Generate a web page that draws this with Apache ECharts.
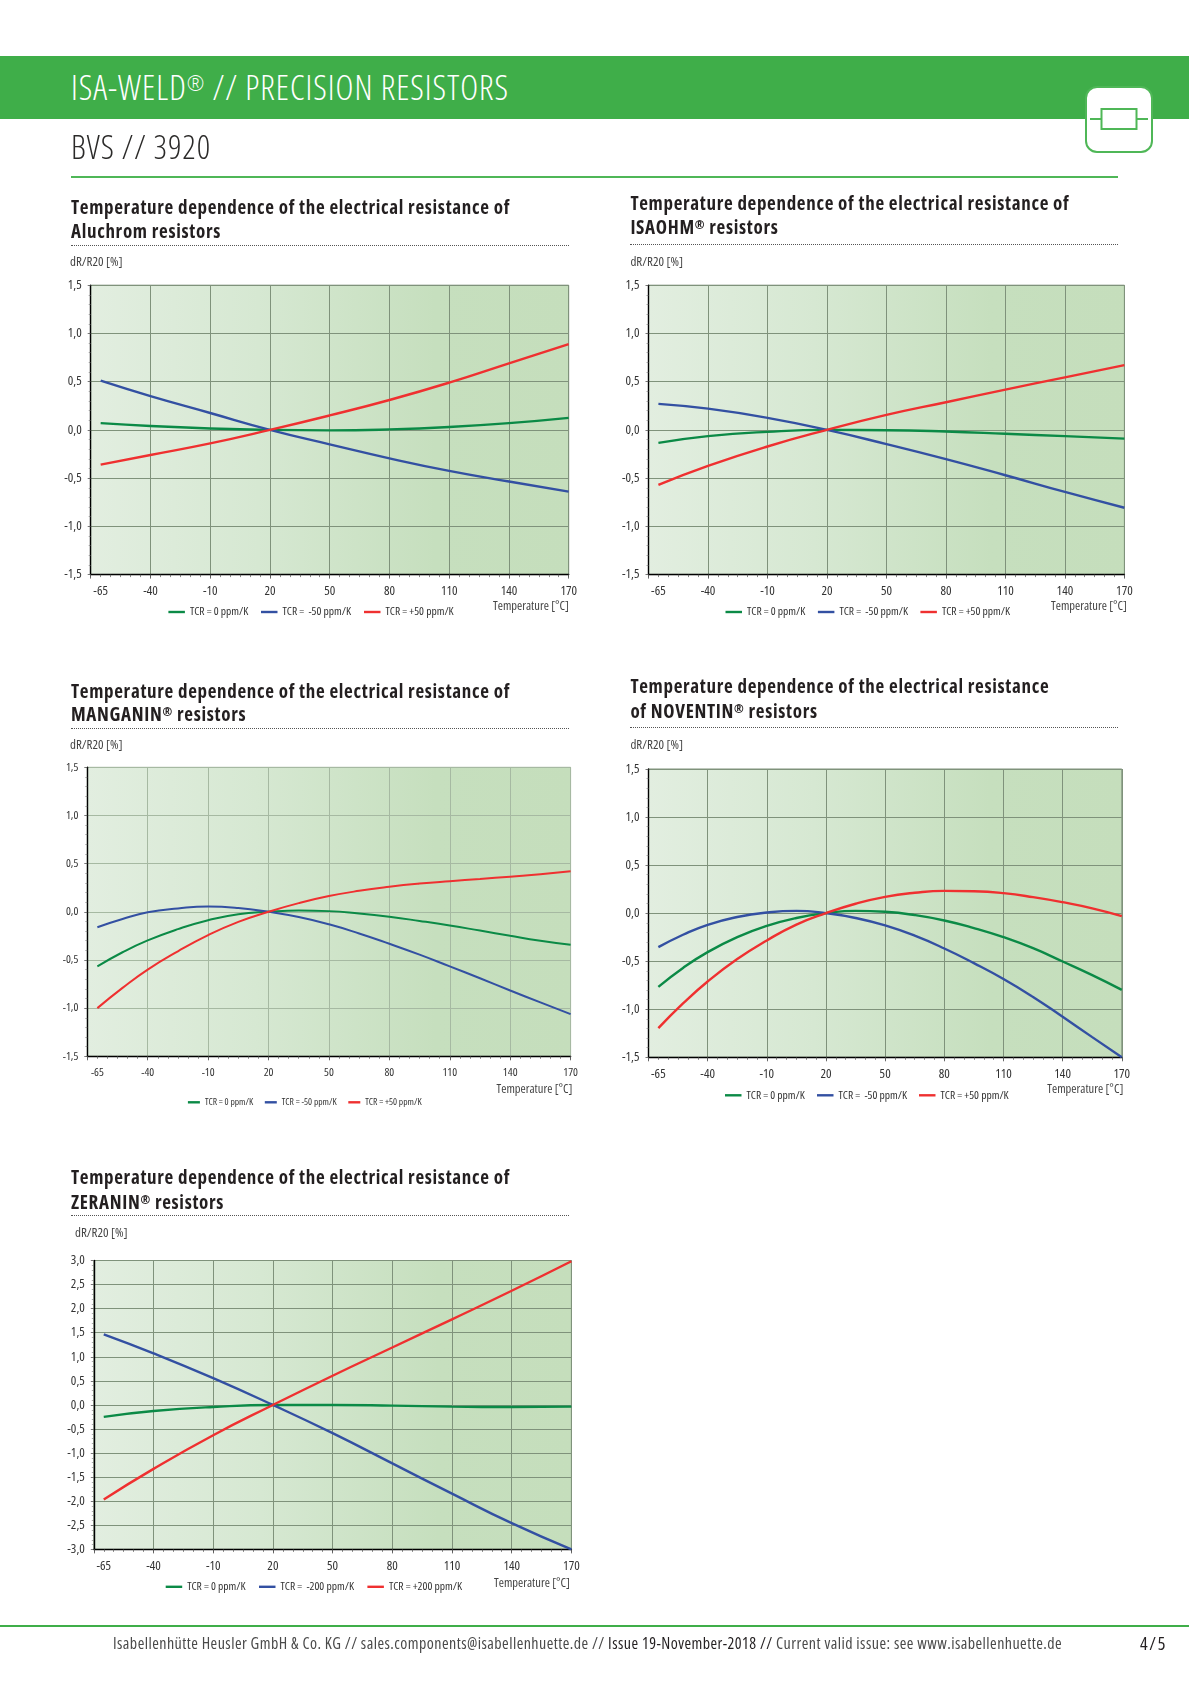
<!DOCTYPE html>
<html>
<head>
<meta charset="utf-8">
<script src="https://cdn.jsdelivr.net/npm/echarts@6/dist/echarts.min.js"></script>
<style>
html,body{margin:0;padding:0;background:#fff;width:1189px;height:1683px;overflow:hidden;font-family:'Open Sans',sans-serif;font-stretch:condensed;color:#231f20}
#c{position:absolute;left:0;top:0;width:1189px;height:1683px}
.t{position:absolute;white-space:pre;line-height:30px;height:30px;font-stretch:condensed}
.r{position:absolute}
sup{font-size:.62em;line-height:0;vertical-align:.45em}
</style>
</head>
<body>
<div id="c"></div>
<div class="r" style="left:0;top:56px;width:1189px;height:63px;background:#3fae49"></div>
<div class="t" id="head" style="left:71px;top:72px;font-size:34px;font-weight:300;color:#fff" data-w="438">ISA-WELD<sup>®</sup> // PRECISION RESISTORS</div>
<div class="t" id="sub" style="left:71px;top:132px;font-size:33px;font-weight:300;color:#2b2a29" data-w="140">BVS // 3920</div>
<div class="r" style="left:71px;top:175.5px;width:1047px;height:2px;background:#4fb757"></div>
<svg class="r" style="left:1082px;top:82px" width="76" height="76" viewBox="0 0 76 76">
  <rect x="4" y="5" width="66" height="65" rx="11" fill="#fff" stroke="#4fb757" stroke-width="2"/>
  <rect x="19.5" y="27" width="35" height="20" fill="none" stroke="#4fb757" stroke-width="2"/>
  <path d="M8 37H19.5M54.5 37H66" stroke="#4fb757" stroke-width="2" fill="none"/>
</svg>
<div id="titles"></div>
<div class="r" style="left:0;top:1625px;width:1189px;height:2px;background:#3fae49"></div>
<div class="t" id="foot" style="left:113px;top:1628px;font-size:16px;color:#4a4a4a" data-w="949">Isabellenhütte Heusler GmbH &amp; Co. KG // sales.components@isabellenhuette.de // <span style="color:#231f20">Issue 19-November-2018 //</span> Current valid issue: see www.isabellenhuette.de</div>
<div class="t" id="page" style="left:1140px;top:1628px;font-size:18px;font-weight:500;color:#231f20" data-w="27">4/5</div>

<script>
// ---- axis ticks and labels
var majorTicks = [-70,-40,-10,20,50,80,110,140,170];
var smallTicks = [-70,-65,-60,-55,-50,-45,-40,-35,-30,-25,-20,-15,-10,-5,0,5,10,15,20,25,30,35,40,45,50,55,60,65,70,75,80,85,90,95,100,105,110,115,120,125,130,135,140,145,150,155,160,165,170];
var xTickLabels = [-65,-40,-10,20,50,80,110,140,170];

// ---- Aluchrom
var aluTemps = [-65,-40,-10,20,50,80,110,140,170];
var aluGreen = [0.07,0.04,0.015,0,-0.005,0.005,0.03,0.07,0.125];
var aluBlue  = [0.51,0.35,0.175,0,-0.15,-0.295,-0.425,-0.535,-0.64];
var aluRed   = [-0.36,-0.26,-0.14,0,0.15,0.31,0.49,0.69,0.89];

// ---- ISAOHM
var isoTemps = [-65,-40,-10,20,50,80,110,140,170];
var isoGreen = [-0.135,-0.065,-0.02,0,-0.003,-0.017,-0.04,-0.065,-0.09];
var isoBlue  = [0.27,0.22,0.125,0,-0.147,-0.303,-0.47,-0.643,-0.807];
var isoRed   = [-0.57,-0.373,-0.172,0,0.155,0.287,0.418,0.545,0.672];

// ---- MANGANIN
var curveTemps = [-65,-52.5,-40,-25,-10,5,20,35,50,65,80,95,110,125,140,155,170];
var manGreen = [-0.567,-0.42,-0.297,-0.18,-0.087,-0.025,0,0.013,0.007,-0.018,-0.052,-0.095,-0.142,-0.195,-0.249,-0.30,-0.343];
var manBlue  = [-0.16,-0.075,-0.005,0.035,0.055,0.04,0,-0.055,-0.13,-0.225,-0.332,-0.445,-0.567,-0.69,-0.817,-0.94,-1.062];
var manRed   = [-1.0,-0.79,-0.6,-0.41,-0.242,-0.105,0,0.09,0.163,0.218,0.26,0.293,0.318,0.34,0.365,0.39,0.422];

// ---- NOVENTIN
var novGreen = [-0.767,-0.57,-0.406,-0.25,-0.132,-0.05,0,0.024,0.014,-0.02,-0.076,-0.155,-0.25,-0.365,-0.503,-0.645,-0.798];
var novBlue  = [-0.354,-0.225,-0.121,-0.04,0.007,0.024,0,-0.05,-0.128,-0.235,-0.368,-0.52,-0.685,-0.872,-1.079,-1.29,-1.5];
var novRed   = [-1.197,-0.94,-0.711,-0.478,-0.284,-0.119,0,0.098,0.17,0.212,0.232,0.228,0.208,0.167,0.114,0.05,-0.031];

// ---- ZERANIN
var zerTemps = [-65,-40,-10,20,50,80,110,140,170];
var zerGreen = [-0.247,-0.127,-0.042,0,0,-0.014,-0.035,-0.042,-0.035];
var zerBlue  = [1.468,1.073,0.557,0,-0.586,-1.214,-1.842,-2.456,-3.0];
var zerRed   = [-1.962,-1.327,-0.628,0,0.607,1.193,1.778,2.371,2.985];

function zip(x,y){return x.map(function(v,i){return [v,y[i]];});}

var GREEN='#0b8a46', BLUE='#3350a2', RED='#ef3030';
var FONT="'Open Sans'", STRETCH='condensed';

var charts = [
 {title:['Temperature dependence of the electrical resistance of','Aluchrom resistors'],tx:71,ty:[207,231],tw:439,dot:[71,569,245],
  box:[90.7,285.2,568.7,574.6],yr:[-1.5,1.5],dRx:70,dRy:262,tempRight:569,tempY:606,legY:614,legX:[168.4,261,364],
  names:['TCR = 0 ppm/K','TCR =  -50 ppm/K','TCR = +50 ppm/K'],s:[[aluTemps,aluGreen],[aluTemps,aluBlue],[aluTemps,aluRed]],grid:'#7f927b',fs:13,lf:11.5,lw:2.4},
 {title:['Temperature dependence of the electrical resistance of','ISAOHM<sup>®</sup> resistors'],tx:630.4,ty:[203.3,227.4],tw:439,dot:[630.4,1118,244.4],
  box:[648.5,285.2,1124.4,574.6],yr:[-1.5,1.5],dRx:630.4,dRy:262,tempRight:1127,tempY:606,legY:614,legX:[725.5,817.9,920.4],
  names:['TCR = 0 ppm/K','TCR =  -50 ppm/K','TCR = +50 ppm/K'],s:[[isoTemps,isoGreen],[isoTemps,isoBlue],[isoTemps,isoRed]],grid:'#7f927b',fs:13,lf:11.5,lw:2.4},
 {title:['Temperature dependence of the electrical resistance of','MANGANIN<sup>®</sup> resistors'],tx:71,ty:[690.7,714.3],tw:439,dot:[71,569,728.3],
  box:[87.3,767.3,570.6,1056.3],yr:[-1.5,1.5],dRx:70,dRy:745,tempRight:572.5,tempY:1089,legY:1105.3,legX:[187.9,264.8,348.3],
  names:['TCR = 0 ppm/K','TCR = -50 ppm/K','TCR = +50 ppm/K'],s:[[curveTemps,manGreen],[curveTemps,manBlue],[curveTemps,manRed]],grid:'#a6b9a2',fs:11.5,lf:9.5,lw:2},
 {title:['Temperature dependence of the electrical resistance','of NOVENTIN<sup>®</sup> resistors'],tx:630.4,ty:[686.3,710.7],tw:419,dot:[630.4,1118,727],
  box:[648.5,769,1121.8,1057.3],yr:[-1.5,1.5],dRx:630.4,dRy:745,tempRight:1123.3,tempY:1089,legY:1097.3,legX:[725,817,919],
  names:['TCR = 0 ppm/K','TCR =  -50 ppm/K','TCR = +50 ppm/K'],s:[[curveTemps,novGreen],[curveTemps,novBlue],[curveTemps,novRed]],grid:'#7f927b',fs:13,lf:11.5,lw:2.4},
 {title:['Temperature dependence of the electrical resistance of','ZERANIN<sup>®</sup> resistors'],tx:71,ty:[1177,1201.7],tw:439,dot:[71,569,1215],
  box:[93.8,1260.5,571.4,1549.4],yr:[-3,3],dRx:75,dRy:1233,tempRight:570,tempY:1583,legY:1588.8,legX:[165.7,259,367.4],
  names:['TCR = 0 ppm/K','TCR =  -200 ppm/K','TCR = +200 ppm/K'],s:[[zerTemps,zerGreen],[zerTemps,zerBlue],[zerTemps,zerRed]],grid:'#7f927b',fs:13,lf:11.5,lw:2.4}
];

var option={animation:false,grid:[],xAxis:[],yAxis:[],legend:[],series:[],graphic:{elements:[]}};
var titlesEl=document.getElementById('titles');
var COLORS=[GREEN,BLUE,RED];

charts.forEach(function(c,i){
  var b=c.box, gi=i;
  option.grid.push({left:b[0],top:b[1],width:b[2]-b[0],height:b[3]-b[1],show:true,borderWidth:1,borderColor:c.grid,containLabel:false,
    backgroundColor:{type:'linear',x:0,y:0,x2:1,y2:0,colorStops:[{offset:0,color:'#e2eee0'},{offset:0.35,color:'#d6e8d2'},{offset:0.72,color:'#c6dfbe'},{offset:1,color:'#c5debc'}]}});
  option.xAxis.push({type:'value',gridIndex:gi,min:-70,max:170,interval:5,position:'bottom',
    axisLine:{onZero:false,show:true,lineStyle:{color:'#000',width:1.4}},
    axisTick:{show:true,length:4,customValues:majorTicks,lineStyle:{color:'#444',width:0.8}},
    minorTick:{show:false},
    splitLine:{show:true,lineStyle:{color:c.grid,width:1}},
    axisLabel:{show:true,customValues:xTickLabels,margin:10,fontFamily:FONT,fontWeight:STRETCH,fontSize:c.fs,color:'#333',hideOverlap:false,showMinLabel:true,showMaxLabel:true}});
  option.xAxis.push({type:'value',gridIndex:gi,min:-70,max:170,interval:5,position:'bottom',
    axisLine:{show:false,onZero:false},axisLabel:{show:false},splitLine:{show:false},
    axisTick:{show:true,length:2.5,customValues:smallTicks,lineStyle:{color:'#555',width:0.7}}});
  option.yAxis.push({type:'value',gridIndex:gi,min:c.yr[0],max:c.yr[1],interval:0.5,position:'left',
    axisLine:{onZero:false,show:true,lineStyle:{color:'#000',width:1.4}},
    axisTick:{show:true,length:3,lineStyle:{color:'#555',width:0.8}},
    minorTick:{show:true,splitNumber:5,length:2,lineStyle:{color:'#777',width:0.6}},
    splitLine:{show:true,lineStyle:{color:c.grid,width:1}},
    axisLabel:{margin:9,fontFamily:FONT,fontWeight:STRETCH,fontSize:c.fs,color:'#333',formatter:function(v){return v.toFixed(1).replace('.',',');}}});
  option.graphic.elements.push({type:'text',x:c.tempRight,y:c.tempY,style:{text:'Temperature [°C]',font:"condensed 12.5px 'Open Sans'",fill:'#444',textAlign:'right',textVerticalAlign:'middle'}});
  option.graphic.elements.push({type:'text',x:c.dRx,y:c.dRy,style:{text:'dR/R20 [%]',font:"condensed 13px 'Open Sans'",fill:'#444',textAlign:'left',textVerticalAlign:'middle'}});
  c.names.forEach(function(n,k){
    option.legend.push({left:c.legX[k],top:c.legY-8,data:[n],selectedMode:false,icon:'rect',itemWidth:c.lf<11?12:16.5,itemHeight:2.4,padding:0,
      textStyle:{fontFamily:FONT,fontWeight:STRETCH,fontSize:c.lf,color:'#333'}});
    option.series.push({type:'line',name:n,xAxisIndex:2*gi,yAxisIndex:gi,data:zip(c.s[k][0],c.s[k][1]),smooth:true,showSymbol:false,symbol:'none',
      lineStyle:{color:COLORS[k],width:c.lw},itemStyle:{color:COLORS[k]},z:3+k});
  });

  c.title.forEach(function(line,k){
    var d=document.createElement('div');
    d.className='t title';
    d.style.cssText='left:'+c.tx+'px;top:'+(c.ty[k]-15)+'px;font-size:19px;font-weight:bold;color:#231f20';
    d.innerHTML=line;
    if(k===0) d.dataset.w=c.tw;
    else d.dataset.ls='1';
    titlesEl.appendChild(d);
  });
  var dl=document.createElement('div');
  dl.className='r';
  dl.style.cssText='left:'+c.dot[0]+'px;top:'+c.dot[2]+'px;width:'+(c.dot[1]-c.dot[0])+'px;border-top:1px dotted #555';
  titlesEl.appendChild(dl);
});

function draw(){
  // Fit each text line to the width it has in the page
  var lastLs=0;
  document.querySelectorAll('.t').forEach(function(el){
    if(el.dataset.w){
      el.style.letterSpacing='0px';
      var r=document.createRange();r.selectNodeContents(el);
      var w=r.getBoundingClientRect().width;
      var n=el.textContent.length;
      lastLs=(parseFloat(el.dataset.w)-w)/n;
      el.style.letterSpacing=lastLs.toFixed(3)+'px';
    } else if(el.dataset.ls){
      el.style.letterSpacing=lastLs.toFixed(3)+'px';
    }
  });
  var chart=echarts.init(document.getElementById('c'),null,{renderer:'canvas',width:1189,height:1683});
  chart.setOption(option);
}
draw();
</script>
</body>
</html>
